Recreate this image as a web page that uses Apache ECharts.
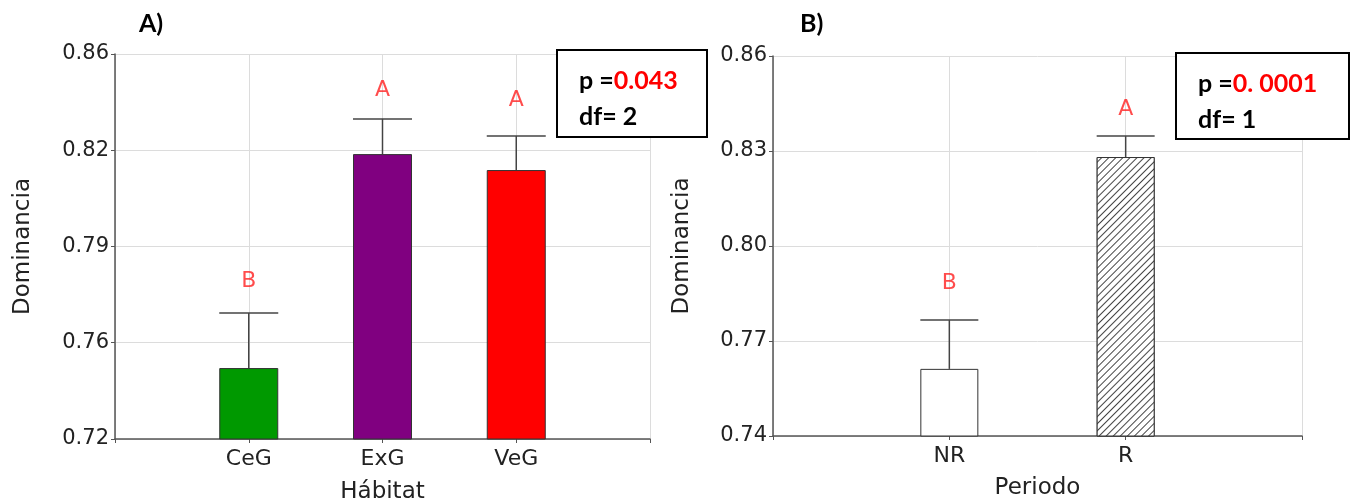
<!DOCTYPE html>
<html>
<head>
<meta charset="utf-8">
<script src="https://cdn.jsdelivr.net/npm/echarts@6/dist/echarts.min.js"></script>
<style>
  html, body { margin: 0; padding: 0; background: #fff; }
  #chart { width: 1357px; height: 504px; }
</style>
</head>
<body>
<div id="chart"></div>
<script>
// --- panel A: habitat ---
var habitats = ['CeG', 'ExG', 'VeG'];
var habitatMean = [0.7458, 0.8236, 0.8178];
var habitatErr = [0.7658, 0.8364, 0.8302];
var habitatLetters = ['B', 'A', 'A'];
var habitatLetterY = [0.7775, 0.8469, 0.8433];
var habitatColors = ['#009900', '#800080', '#ff0000'];
var ticksA = [0.72, 0.755, 0.79, 0.825, 0.86];
var tickLabelsA = ['0.72', '0.76', '0.79', '0.82', '0.86'];
var statsA = { p: '0.043', df: '2' };

// --- panel B: period ---
var periods = ['NR', 'R'];
var periodMean = [0.7612, 0.8281];
var periodErr = [0.7766, 0.8347];
var periodLetters = ['B', 'A'];
var periodLetterY = [0.7883, 0.8433];
var ticksB = [0.74, 0.77, 0.80, 0.83, 0.86];
var tickLabelsB = ['0.74', '0.77', '0.80', '0.83', '0.86'];
var statsB = { p: '0. 0001', df: '1' };

var FONT = 'DejaVu Sans, Liberation Sans, sans-serif';
var TXT = '#222';
var AXIS = '#555';

function xAx(idx, cats, name, gap, margin) {
  return {
    type: 'value', gridIndex: idx, min: 0, max: cats.length + 1, interval: 1,
    name: name, nameLocation: 'middle', nameGap: gap,
    nameTextStyle: { fontSize: 23, color: TXT, fontFamily: FONT },
    axisLine: { show: true, onZero: false, lineStyle: { color: AXIS, width: 1.5 } },
    axisTick: { show: true, length: 4, lineStyle: { color: AXIS } },
    axisLabel: {
      fontSize: 22, color: TXT, fontFamily: FONT, margin: margin,
      formatter: function (v) { return cats[v - 1] || ''; }
    },
    splitLine: { show: true, lineStyle: { color: '#dcdcdc', width: 1 } }
  };
}

function yAx(idx, ticks, labels, gap) {
  return {
    type: 'value', gridIndex: idx, min: ticks[0], max: ticks[ticks.length - 1],
    name: 'Dominancia', nameLocation: 'middle', nameGap: gap, nameRotate: 90,
    nameTextStyle: { fontSize: 23, color: TXT, fontFamily: FONT },
    axisLine: { show: true, onZero: false, lineStyle: { color: AXIS, width: 1.5 } },
    axisTick: { show: true, length: 4, customValues: ticks, lineStyle: { color: AXIS } },
    axisLabel: {
      fontSize: 21, color: TXT, fontFamily: FONT, margin: 6, customValues: ticks,
      formatter: function (v) {
        for (var i = 0; i < ticks.length; i++) {
          if (Math.abs(ticks[i] - v) < 1e-6) return labels[i];
        }
        return '';
      }
    },
    splitLine: { show: true, lineStyle: { color: '#dcdcdc', width: 1 } }
  };
}

function errRender(halfW) {
  return function (params, api) {
    var lo = api.coord([api.value(0), api.value(1)]);
    var hi = api.coord([api.value(0), api.value(2)]);
    var st = { stroke: '#444', lineWidth: 1.5 };
    return {
      type: 'group',
      children: [
        { type: 'line', shape: { x1: lo[0], y1: lo[1], x2: hi[0], y2: hi[1] }, style: st },
        { type: 'line', shape: { x1: hi[0] - halfW, y1: hi[1], x2: hi[0] + halfW, y2: hi[1] }, style: st }
      ]
    };
  };
}

function letterSeries(idx, letterY, letters) {
  return {
    type: 'scatter', xAxisIndex: idx, yAxisIndex: idx, symbolSize: 1,
    itemStyle: { color: 'transparent' }, silent: true,
    data: letters.map(function (l, i) { return [i + 1, letterY[i], l]; }),
    label: {
      show: true, position: 'inside', color: '#ff1f1f', fontSize: 22, fontFamily: FONT,
      formatter: function (p) { return p.data[2]; }
    }
  };
}

function statBox(x, y, w, h, stats) {
  var k = { fontFamily: 'Lato', fontWeight: 'bold', fontSize: 25, fill: '#000' };
  var r = { fontFamily: 'Lato', fontWeight: 'bold', fontSize: 25, fill: '#ff0000' };
  return [
    { type: 'rect', shape: { x: x, y: y, width: w, height: h }, style: { fill: '#fff', stroke: '#000', lineWidth: 2 }, z: 10 },
    {
      type: 'text', x: x + 22, y: y + 31, z: 11,
      style: { text: '{k|p =}{r|' + stats.p + '}', rich: { k: k, r: r }, verticalAlign: 'middle' }
    },
    {
      type: 'text', x: x + 22, y: y + 67, z: 11,
      style: { text: 'df= ' + stats.df, font: 'bold 25px Lato', fill: '#000', verticalAlign: 'middle' }
    }
  ];
}

var chart = echarts.init(document.getElementById('chart'), null, { renderer: 'canvas' });

var option = {
  backgroundColor: '#fff',
  animation: false,
  grid: [
    { left: 115, top: 54, right: 1357 - 650, bottom: 504 - 439, outerBoundsMode: 'none' },
    { left: 773, top: 56, right: 1357 - 1302, bottom: 504 - 436, outerBoundsMode: 'none' }
  ],
  xAxis: [
    xAx(0, habitats, 'Hábitat', 42, 9),
    xAx(1, periods, 'Periodo', 41, 9)
  ],
  yAxis: [
    yAx(0, ticksA, tickLabelsA, 80),
    yAx(1, ticksB, tickLabelsB, 79)
  ],
  series: [
    {
      type: 'bar', xAxisIndex: 0, yAxisIndex: 0, barWidth: 59,
      itemStyle: { borderColor: '#333', borderWidth: 1 },
      data: habitats.map(function (c, i) {
        return { value: [i + 1, habitatMean[i]], itemStyle: { color: habitatColors[i] } };
      })
    },
    {
      type: 'custom', xAxisIndex: 0, yAxisIndex: 0, renderItem: errRender(29.5),
      encode: { x: 0, y: [1, 2] }, silent: true,
      data: habitats.map(function (c, i) { return [i + 1, habitatMean[i], habitatErr[i]]; })
    },
    letterSeries(0, habitatLetterY, habitatLetters),
    {
      type: 'bar', xAxisIndex: 1, yAxisIndex: 1, barWidth: 58,
      itemStyle: { borderColor: '#333', borderWidth: 1, color: '#fff' },
      data: periods.map(function (c, i) {
        var d = { value: [i + 1, periodMean[i]] };
        if (c === 'R') {
          d.itemStyle = {
            color: '#fff',
            decal: {
              symbol: 'rect', symbolSize: 1, dashArrayX: [1, 0], dashArrayY: [1, 4],
              rotation: -Math.PI / 4, color: '#444', backgroundColor: '#fff'
            }
          };
        }
        return d;
      })
    },
    {
      type: 'custom', xAxisIndex: 1, yAxisIndex: 1, renderItem: errRender(29),
      encode: { x: 0, y: [1, 2] }, silent: true,
      data: periods.map(function (c, i) { return [i + 1, periodMean[i], periodErr[i]]; })
    },
    letterSeries(1, periodLetterY, periodLetters)
  ],
  graphic: [
    { type: 'text', x: 139, y: 24, style: { text: 'A)', font: 'bold 25px Lato', fill: '#000', verticalAlign: 'middle' } },
    { type: 'text', x: 800, y: 24, style: { text: 'B)', font: 'bold 25px Lato', fill: '#000', verticalAlign: 'middle' } }
  ].concat(statBox(557, 50, 150, 87, statsA)).concat(statBox(1176, 53, 173, 86, statsB))
};

chart.setOption(option);
</script>
</body>
</html>
